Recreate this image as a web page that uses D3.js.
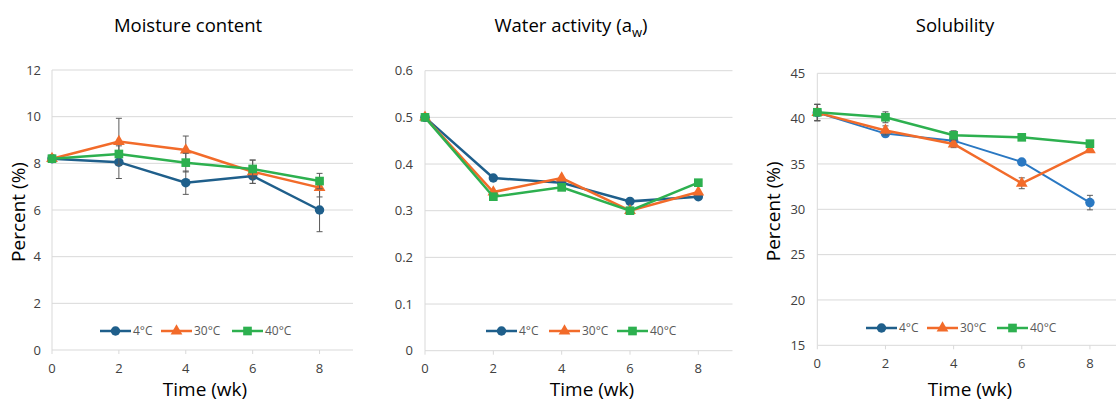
<!DOCTYPE html>
<html>
<head>
<meta charset="utf-8">
<script src="https://cdn.jsdelivr.net/npm/d3@7"></script>
<style>
body { margin: 0; background: #fff; }
svg { font-family: "Open Sans", sans-serif; }
</style>
</head>
<body>
<svg id="chart" width="1116" height="401"></svg>
<script>
const weeks = [0, 2, 4, 6, 8];
const seriesNames = ["4°C", "30°C", "40°C"];

// moisture content (%)
const moisture4 = [8.2, 8.05, 7.17, 7.46, 6.0];
const moisture30 = [8.2, 8.93, 8.57, 7.64, 6.96];
const moisture40 = [8.2, 8.4, 8.03, 7.76, 7.24];
const moistureErr4 = [0.05, 0.7, 0.5, 0.32, 0.93];
const moistureErr30 = [0.05, 1.0, 0.6, 0.5, 0.4];
const moistureErr40 = [0.05, 0.1, 0.4, 0.38, 0.33];

// water activity
const aw4 = [0.5, 0.37, 0.36, 0.32, 0.33];
const aw30 = [0.5, 0.34, 0.37, 0.30, 0.34];
const aw40 = [0.5, 0.33, 0.35, 0.30, 0.36];

// solubility (%)
const sol4 = [40.66, 38.35, 37.57, 35.22, 30.74];
const sol30 = [40.66, 38.7, 37.2, 32.87, 36.55];
const sol40 = [40.7, 40.15, 38.16, 37.94, 37.24];
const solErr4 = [0.9, 0.2, 0.3, 0.2, 0.8];
const solErr30 = [0.9, 0.5, 0.4, 0.6, 0.2];
const solErr40 = [0.9, 0.6, 0.5, 0.2, 0.3];

const moistureTicks = [0, 2, 4, 6, 8, 10, 12];
const awTicks = [0, 0.1, 0.2, 0.3, 0.4, 0.5, 0.6];
const solTicks = [15, 20, 25, 30, 35, 40, 45];

const colors = ["#1f5f8b", "#f26b2a", "#2db04f"];
const shapes = [d3.symbolCircle, d3.symbolTriangle, d3.symbolSquare];
const shapeSize = [70, 60, 75];

const svg = d3.select("#chart");

function panel(opt) {
  const x = d3.scaleLinear().domain([0, 9]).range([opt.x0, opt.x9]);
  const y = d3.scaleLinear().domain([opt.ticks[0], opt.ticks[opt.ticks.length - 1]]).range([opt.yb, opt.yt]);
  const g = svg.append("g");

  // grid
  g.selectAll(".grid").data(opt.ticks.slice(1)).join("line")
    .attr("x1", x(0)).attr("x2", x(9))
    .attr("y1", d => y(d)).attr("y2", d => y(d))
    .attr("stroke", "#d9d9d9").attr("stroke-width", 1);
  g.append("line").attr("x1", x(0)).attr("x2", x(0)).attr("y1", y.range()[1]).attr("y2", y.range()[0])
    .attr("stroke", "#d9d9d9");
  g.append("line").attr("x1", x(0)).attr("x2", x(9)).attr("y1", y.range()[0]).attr("y2", y.range()[0])
    .attr("stroke", "#d9d9d9");
  g.selectAll(".xt").data(weeks).join("line")
    .attr("x1", d => x(d)).attr("x2", d => x(d))
    .attr("y1", y.range()[0]).attr("y2", y.range()[0] + 4)
    .attr("stroke", "#d9d9d9");

  // tick labels
  g.selectAll(".yl").data(opt.ticks).join("text")
    .attr("x", x(0) - opt.tickGap).attr("y", d => y(d)).attr("dy", "0.35em")
    .attr("text-anchor", "end").attr("font-size", 13).attr("fill", "#404040")
    .text(d => d === 0 ? "0" : opt.fmt(d));
  g.selectAll(".xl").data(weeks).join("text")
    .attr("x", d => x(d)).attr("y", y.range()[0] + 18).attr("dy", "0.35em")
    .attr("text-anchor", "middle").attr("font-size", 13).attr("fill", "#404040")
    .text(d => d);

  // titles
  const t = g.append("text").attr("x", opt.titleX).attr("y", 32)
    .attr("text-anchor", "middle").attr("font-size", 18.5).attr("fill", "#000");
  t.append("tspan").text(opt.title);
  if (opt.sub) {
    t.append("tspan").attr("font-size", 13).attr("dy", 5).text(opt.sub);
    t.append("tspan").attr("dy", -5).text(")");
  }
  g.append("text").attr("x", opt.xTitleX).attr("y", 396)
    .attr("text-anchor", "middle").attr("font-size", 19).text("Time (wk)");
  if (opt.yTitleX) {
    g.append("text")
      .attr("transform", `translate(${opt.yTitleX},${(y.range()[0] + y.range()[1]) / 2 + 2}) rotate(-90)`)
      .attr("text-anchor", "middle").attr("font-size", 19).text("Percent (%)");
  }

  const line = d3.line().x((d, i) => x(weeks[i])).y(d => y(d));

  opt.series.forEach((s, k) => {
    if (s.err) {
      const eg = g.append("g").attr("stroke", "#5a5a5a").attr("stroke-width", 1);
      s.values.forEach((v, i) => {
        const cx = x(weeks[i]);
        eg.append("line").attr("x1", cx).attr("x2", cx).attr("y1", y(v - s.err[i])).attr("y2", y(v + s.err[i]));
        [v - s.err[i], v + s.err[i]].forEach(e => {
          eg.append("line").attr("x1", cx - 3).attr("x2", cx + 3).attr("y1", y(e)).attr("y2", y(e));
        });
      });
    }
    g.append("path").datum(s.values).attr("d", line)
      .attr("fill", "none").attr("stroke", s.color || colors[k]).attr("stroke-width", s.width || 2.5);
    g.selectAll(null).data(s.values).join("path")
      .attr("transform", (d, i) => `translate(${x(weeks[i])},${y(d)})`)
      .attr("d", d3.symbol(shapes[k], shapeSize[k]))
      .attr("fill", s.color || colors[k]);
  });

  // legend
  const lg = g.append("g").attr("transform", `translate(0,${opt.legY})`);
  seriesNames.forEach((n, k) => {
    const lx = opt.legX[k];
    lg.append("line").attr("x1", lx).attr("x2", lx + 31).attr("y1", 0).attr("y2", 0)
      .attr("stroke", colors[k]).attr("stroke-width", 2.5);
    lg.append("path").attr("transform", `translate(${lx + 15.5},0)`)
      .attr("d", d3.symbol(shapes[k], shapeSize[k])).attr("fill", colors[k]);
    lg.append("text").attr("x", lx + 33).attr("y", 0).attr("dy", "0.35em")
      .attr("font-size", 12).attr("fill", "#595959").text(n);
  });
}

panel({
  x0: 52, x9: 353, yt: 70, yb: 350, ticks: moistureTicks, fmt: d3.format("d"), tickGap: 11,
  title: "Moisture content", titleX: 188, xTitleX: 205, yTitleX: 25,
  legY: 331, legX: [100, 161, 232],
  series: [
    { values: moisture4, err: moistureErr4 },
    { values: moisture30, err: moistureErr30 },
    { values: moisture40, err: moistureErr40 }
  ]
});

panel({
  x0: 425, x9: 732.5, yt: 70.7, yb: 350.7, ticks: awTicks, fmt: d3.format(".1f"), tickGap: 12,
  title: "Water activity (a", sub: "w", titleX: 571, xTitleX: 592,
  legY: 331, legX: [486, 549, 617],
  series: [
    { values: aw4 },
    { values: aw30 },
    { values: aw40 }
  ]
});

panel({
  x0: 817.3, x9: 1124, yt: 73.3, yb: 345.3, ticks: solTicks, fmt: d3.format("d"), tickGap: 12,
  title: "Solubility", titleX: 955, xTitleX: 970, yTitleX: 780,
  legY: 328, legX: [866, 927, 997],
  series: [
    { values: sol4, err: solErr4, color: "#2a78c2", width: 2 },
    { values: sol30, err: solErr30 },
    { values: sol40, err: solErr40 }
  ]
});
</script>
</body>
</html>
